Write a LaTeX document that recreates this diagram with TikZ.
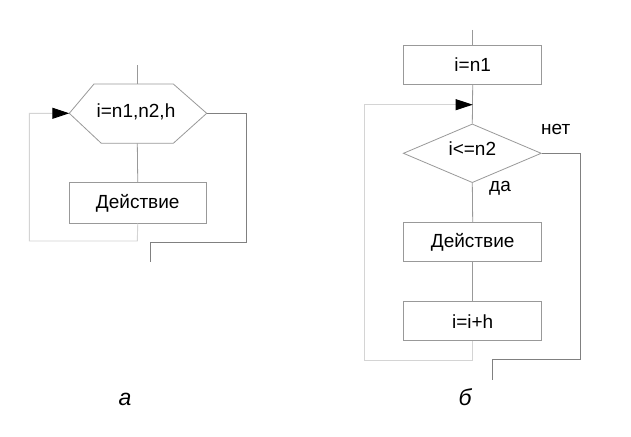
\documentclass[tikz,border=0pt]{standalone}
\usepackage{fontspec}
\setmainfont{Liberation Sans}
\usetikzlibrary{arrows.meta,shapes.geometric}
\definecolor{lineg}{gray}{0.6}
\definecolor{loopg}{gray}{0.83}
\definecolor{exitg}{gray}{0.5}
\begin{document}
\begin{tikzpicture}[x=1pt,y=-1pt,
  flowbox/.style={draw=lineg,line width=0.8pt,minimum width=138pt,minimum height=39pt,inner sep=0pt,font=\fontsize{19}{22}\selectfont,anchor=north west},
  cond/.style={draw=lineg,line width=0.8pt,diamond,minimum width=138pt,minimum height=58.7pt,inner sep=0pt,font=\fontsize{19}{22}\selectfont},
  conn/.style={draw=lineg,line width=0.8pt},
  loopline/.style={draw=loopg,line width=0.9pt},
  exitline/.style={draw=exitg,line width=0.8pt},
  tip/.style={-{Triangle[length=17pt,width=11pt,color=black,fill=black]}},
  lbl/.style={font=\fontsize{19}{22}\selectfont},
  caption/.style={font=\fontsize{23}{26}\selectfont\itshape}]
\useasboundingbox (0,0) rectangle (631,436);
\fill[white] (0,0) rectangle (631,436);

% ---------- diagram a ----------
\coordinate (aTop) at (137.3,65);
\coordinate (hT) at (137.3,84);
\coordinate (hB) at (137.3,143.3);
\coordinate (hL) at (69.3,113.3);
\coordinate (hR) at (206.7,113.3);
\draw[conn] (94,84) -- (173.3,84) -- (hR) -- (173.3,143.3) -- (101.3,143.3) -- (hL) -- cycle;
\node[lbl] (hex) at (136,112) {i=n1,n2,h};
\node[flowbox,minimum width=137.3pt,minimum height=40.4pt] (actA) at (68.7,182.3) {Действие};
\coordinate (aLoopA) at (137.3,241);
\coordinate (aLoopB) at (29.3,241);
\coordinate (aLoopC) at (29.3,113.3);
\coordinate (aEx1) at (246.7,113.3);
\coordinate (aEx2) at (246.7,242.3);
\coordinate (aEx3) at (150,242.3);
\coordinate (aEnd) at (150,261.7);
\node[caption] (capA) at (125,399) {а};

\draw[conn] (aTop) -- (hT);
\draw[conn] (hB) -- (actA.north);
\draw[loopline,tip] (actA.south) -- (aLoopA) -- (aLoopB) -- (aLoopC) -- (hL);
\draw[exitline] (hR) -- (aEx1) -- (aEx2) -- (aEx3) -- (aEnd);

% ---------- diagram b ----------
\coordinate (bTop) at (472.7,30);
\node[flowbox] (init) at (403.3,45) {i=n1};
\coordinate (bJoin) at (472.7,104.7);
\node[cond] (test) at (472.3,153.3) {\smash{\raisebox{-2pt}{i<=n2}}};
\node[flowbox] (actB) at (403.3,222.3) {Действие};
\node[flowbox] (incr) at (403.3,301.3) {i=i+h};
\node[lbl] (no) at (555.7,129) {нет};
\node[lbl] (yes) at (500,188.3) {да};
\coordinate (bLoopA) at (472.7,360);
\coordinate (bLoopB) at (364,360);
\coordinate (bLoopC) at (364,104.7);
\coordinate (bEx1) at (580,153.3);
\coordinate (bEx2) at (580,359);
\coordinate (bEx3) at (492.3,359);
\coordinate (bEnd) at (492.3,380);
\node[caption] (capB) at (465,397) {б};

\draw[conn] (bTop) -- (init.north);
\draw[conn] (init.south) -- (test.north);
\draw[conn] (test.south) -- (actB.north);
\draw[conn] (actB.south) -- (incr.north);
\draw[loopline,tip] (incr.south) -- (bLoopA) -- (bLoopB) -- (bLoopC) -- (bJoin);
\draw[exitline] (test.east) -- (bEx1) -- (bEx2) -- (bEx3) -- (bEnd);
\end{tikzpicture}
\end{document}
